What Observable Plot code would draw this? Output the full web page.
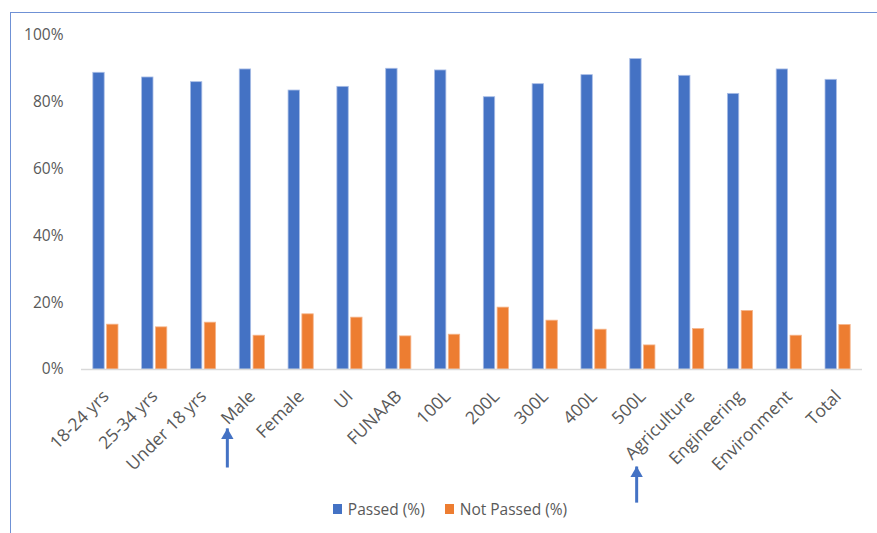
<!DOCTYPE html>
<html>
<head>
<meta charset="utf-8">
<script src="https://cdn.jsdelivr.net/npm/d3@7"></script>
<script src="https://cdn.jsdelivr.net/npm/@observablehq/plot@0.6"></script>
<style>
  html, body { margin: 0; padding: 0; background: #fff; }
  #wrap { position: relative; width: 877px; height: 533px; overflow: hidden; font-family: "Open Sans", sans-serif; }
  #frame { position: absolute; left: 10px; top: 12px; right: -5px; bottom: -5px; border-top: 1.3px solid #6f91d5; border-left: 1.3px solid #6f91d5; pointer-events: none; }
  #chart { position: absolute; left: 0; top: 0; }
  #legend { position: absolute; left: 0; width: 900px; top: 498px; display: flex; justify-content: center; gap: 20px; font-size: 15.5px; color: #595959; }
  #legend .item { display: flex; align-items: center; gap: 6px; }
  #legend .sw { width: 9px; height: 10px; display: inline-block; }
</style>
</head>
<body>
<div id="wrap">
  <div id="chart"></div>
  <div id="frame"></div>
  <div id="legend"></div>
</div>
<script>
const categories = ["18-24 yrs","25-34 yrs","Under 18 yrs","Male","Female","UI","FUNAAB","100L","200L","300L","400L","500L","Agriculture","Engineering","Environment","Total"];
const passed    = [88.7, 87.3, 85.9, 89.7, 83.4, 84.5, 89.9, 89.4, 81.4, 85.3, 88.0, 92.8, 87.8, 82.4, 89.7, 86.6];
const notPassed = [13.4, 12.6, 14.0, 10.1, 16.5, 15.5,  9.9, 10.4, 18.5, 14.6, 11.9,  7.2, 12.1, 17.5, 10.1, 13.3];
const seriesNames = ["Passed (%)", "Not Passed (%)"];
const seriesColors = ["#4472c4", "#ed7d31"];
const yTicks = [0, 20, 40, 60, 80, 100];

// annotation arrows pointing at labels (values in y units, below the axis)
const arrowCats = ["Male", "Agriculture"];
const arrowTip  = [-17.6, -29.0];
const arrowTail = [-29.3, -39.8];

const passedData = categories.map((c, i) => ({cat: c, value: passed[i]}));
const notPassedData = categories.map((c, i) => ({cat: c, value: notPassed[i]}));
const arrows = arrowCats.map((c, i) => ({cat: c, tip: arrowTip[i], tail: arrowTail[i]}));

const arrowMarks = (a, dx) => [
  Plot.link([a], {x1: "cat", x2: "cat", y1: "tail", y2: "tip", stroke: "#4472c4", strokeWidth: 3, dx}),
  Plot.dot([a], {x: "cat", y: "tip", symbol: "triangle", r: 4.6, fill: "#4472c4", stroke: "none", dx, dy: 7})
];

const chart = Plot.plot({
  width: 877,
  height: 533,
  marginLeft: 81,
  marginRight: 15,
  marginTop: 34.5,
  marginBottom: 164,
  style: {fontFamily: "'Open Sans', sans-serif", color: "#595959", background: "transparent", overflow: "visible"},
  x: {domain: categories, paddingInner: 0.767, paddingOuter: 0.3835, round: false, label: null},
  y: {domain: [0, 100], label: null},
  marks: [
    Plot.axisX({tickRotate: -45, tickSize: 0, tickPadding: 24, fontSize: 17.5, fill: "#595959", label: null}),
    Plot.axisY({ticks: yTicks, tickFormat: d => d + "%", tickSize: 0, tickPadding: 18, fontSize: 15.5, fill: "#595959", label: null}),
    Plot.barY(passedData, {x: "cat", y: "value", fill: seriesColors[0], stroke: "#a9bde6", strokeWidth: 0.8, dx: -6.9}),
    Plot.barY(notPassedData, {x: "cat", y: "value", fill: seriesColors[1], stroke: "#f5b58c", strokeWidth: 0.8, dx: 6.9}),
    Plot.ruleY([0], {stroke: "#d9d9d9", strokeWidth: 1.3}),
    ...arrowMarks(arrows[0], -25),
    ...arrowMarks(arrows[1], -55)
  ]
});
document.getElementById("chart").appendChild(chart);

const legend = document.getElementById("legend");
seriesNames.forEach((n, i) => {
  const item = document.createElement("span");
  item.className = "item";
  const sw = document.createElement("span");
  sw.className = "sw";
  sw.style.background = seriesColors[i];
  const t = document.createElement("span");
  t.textContent = n;
  item.appendChild(sw);
  item.appendChild(t);
  legend.appendChild(item);
});
</script>
</body>
</html>
